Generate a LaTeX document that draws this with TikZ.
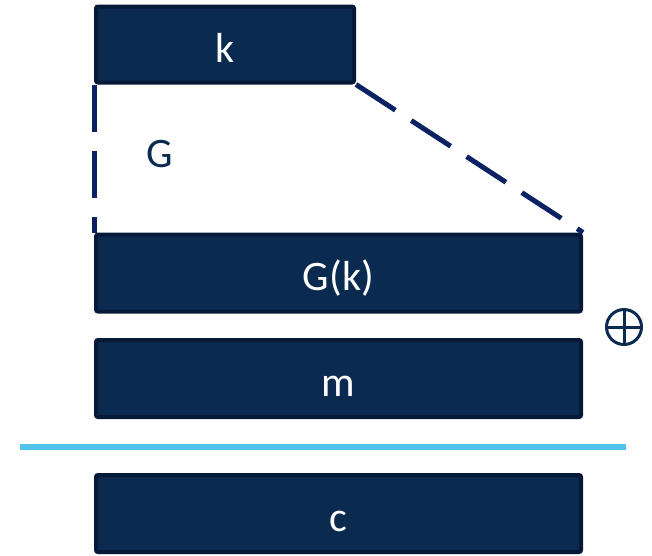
\documentclass[tikz,border=0pt]{standalone}
\usepackage{fontspec}
\setmainfont{Carlito}
\usepackage{tikz}
\usetikzlibrary{calc}

\definecolor{boxfill}{HTML}{0B2A4F}
\definecolor{boxline}{HTML}{061A38}
\definecolor{dashnavy}{HTML}{0B2262}
\definecolor{rulecyan}{HTML}{4FC3EA}

\begin{document}
\begin{tikzpicture}[x=1pt, y=-1pt,
        every node/.style={font=\fontsize{42}{48}\selectfont, text height=35pt, text depth=0pt},
        block/.style={draw=boxline, fill=boxfill, line width=4pt, rounded corners=2pt,
                      text=white, minimum height=76pt, inner sep=0pt}]
            \useasboundingbox (0,0) rectangle (652,555);

            \node (k_box) at (225, 44.5) [block, minimum width=258pt] {k};
            \node (gk_box) at (338.5, 273) [block, minimum width=485pt, minimum height=77pt] {G(k)};
            \node (m_box) at (338.5, 378.5) [block, minimum width=485pt, minimum height=77pt] {m};
            \node (c_box) at (338.5, 513.5) [block, minimum width=485pt, minimum height=77pt] {c};

            \draw [line width=5pt, color=dashnavy, dash pattern=on 47pt off 19pt]
                (k_box.south west) -- (gk_box.north west);
            \draw [line width=5pt, color=dashnavy, dash pattern=on 47pt off 19pt]
                (k_box.south east) -- (gk_box.north east);

            \node (g_label) at (160, 149.5) [text=boxfill, inner sep=0pt] {G};

            \node (xor) at (624, 327) [circle, draw=boxfill, line width=3pt, minimum size=35pt, inner sep=0pt] {};
            \draw [line width=3pt, color=boxfill] (xor.north) -- (xor.south);
            \draw [line width=3pt, color=boxfill] (xor.west) -- (xor.east);

            \coordinate (rule_l) at (20, 447);
            \coordinate (rule_r) at (626, 447);
            \draw [line width=6pt, color=rulecyan] (rule_l) -- (rule_r);
        \end{tikzpicture}
\end{document}
